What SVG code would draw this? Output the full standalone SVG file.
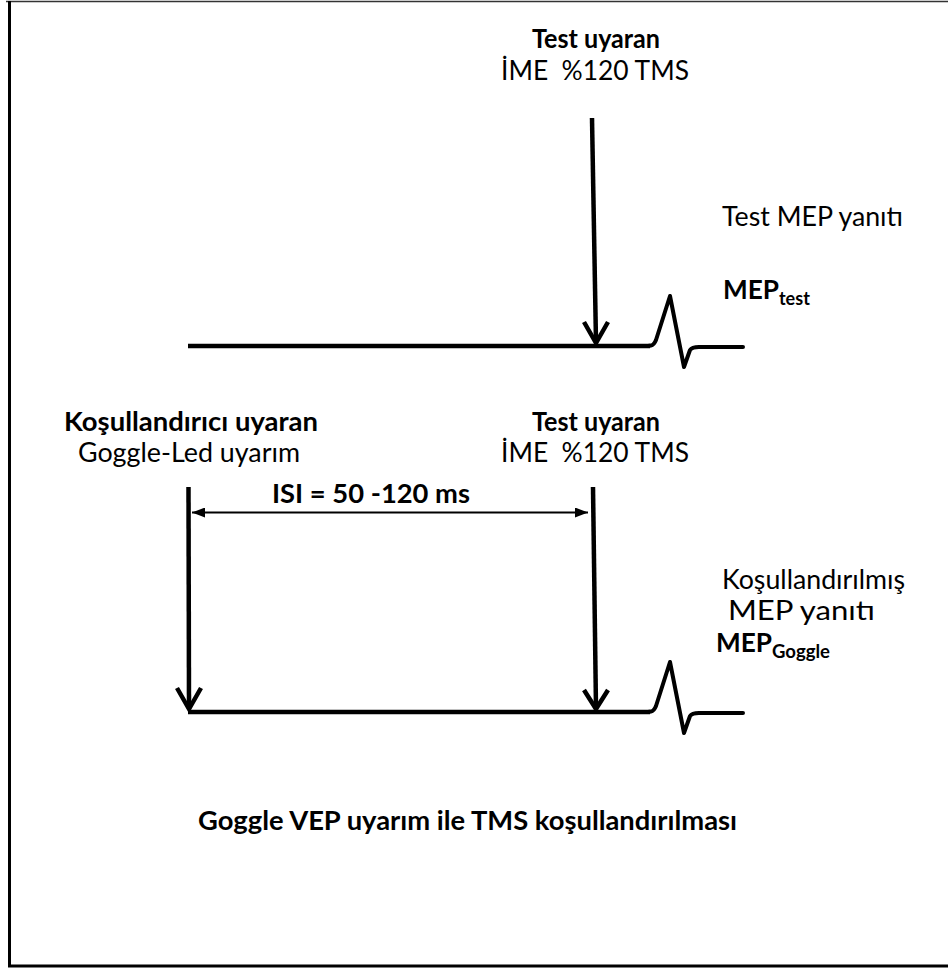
<svg xmlns="http://www.w3.org/2000/svg" width="948" height="968" viewBox="0 0 948 968">
<style>
text{font-family:Lato,"Open Sans","Liberation Sans",sans-serif;fill:#000;white-space:pre}
.b{font-weight:bold}
.r{font-size:26px}
.m{font-size:27px;font-weight:bold}
.s{font-size:18px;font-weight:bold}
.thick{stroke:#000;stroke-width:4.5;fill:none;stroke-linecap:butt}
.head{stroke:#000;stroke-width:4.5;fill:none;stroke-linejoin:miter;stroke-linecap:butt}
.wave{stroke:#000;stroke-width:4;fill:none;stroke-linejoin:round;stroke-linecap:round}
</style>
<defs>
<marker id="ah" viewBox="0 0 13 10" refX="13" refY="5" markerWidth="13" markerHeight="10" markerUnits="userSpaceOnUse" orient="auto-start-reverse">
<path d="M0,0 L13,5 L0,10 Z" fill="#000"/>
</marker>
</defs>
<rect x="0" y="0" width="948" height="968" fill="#fff"/>
<g id="frame">
<line x1="6" y1="1.5" x2="948" y2="1.5" stroke="#333" stroke-width="1.5"/>
<line x1="9.5" y1="1" x2="9.5" y2="967" stroke="#000" stroke-width="3"/>
<line x1="8" y1="966" x2="948" y2="966" stroke="#000" stroke-width="3"/>
</g>
<g id="connectors">
<line class="thick" x1="188" y1="346" x2="650" y2="346"/>
<path class="wave" d="M648,346 L651,345.5 Q654,345 656,340 L670,296 L684,367 L690,350 Q692,347 699,347 L743,347"/>
<line class="thick" x1="592" y1="118" x2="596" y2="342"/>
<polyline class="head" points="584,322 596,343 608,322"/>
<line class="thick" x1="188" y1="712" x2="650" y2="712"/>
<path class="wave" d="M648,712 L651,711.5 Q654,711 656,706 L670,662 L684,733 L690,716 Q692,713 699,713 L743,713"/>
<line class="thick" x1="188.5" y1="487" x2="189" y2="708"/>
<polyline class="head" points="177,688 189,709 201,688"/>
<line class="thick" x1="593" y1="487" x2="596" y2="708"/>
<polyline class="head" points="584,690 596,709 608,690"/>
<line x1="192" y1="512.5" x2="588" y2="512.5" stroke="#000" stroke-width="2" marker-start="url(#ah)" marker-end="url(#ah)"/>
</g>
<g id="test-stimulus-top">
<text class="r b" x="596" y="48" text-anchor="middle" textLength="128" lengthAdjust="spacingAndGlyphs">Test uyaran</text>
<text class="r" x="595" y="80" text-anchor="middle" textLength="188" lengthAdjust="spacingAndGlyphs">İME  %120 TMS</text>
</g>
<g id="test-mep-label">
<text class="r" x="722" y="226" textLength="181" lengthAdjust="spacingAndGlyphs">Test MEP yanıtı</text>
<text x="723" y="299"><tspan class="m" textLength="56" lengthAdjust="spacingAndGlyphs">MEP</tspan><tspan class="s" dy="6">test</tspan></text>
</g>
<g id="conditioning-stimulus">
<text class="r b" x="64" y="431" textLength="254" lengthAdjust="spacingAndGlyphs">Koşullandırıcı uyaran</text>
<text class="r" x="78" y="462" textLength="222" lengthAdjust="spacingAndGlyphs">Goggle-Led uyarım</text>
</g>
<g id="isi-label">
<text class="r b" x="272" y="503" textLength="198" lengthAdjust="spacingAndGlyphs">ISI = 50 -120 ms</text>
</g>
<g id="test-stimulus-bottom">
<text class="r b" x="596" y="431" text-anchor="middle" textLength="128" lengthAdjust="spacingAndGlyphs">Test uyaran</text>
<text class="r" x="595" y="462" text-anchor="middle" textLength="188" lengthAdjust="spacingAndGlyphs">İME  %120 TMS</text>
</g>
<g id="conditioned-mep-label">
<text class="r" x="722" y="589" textLength="183" lengthAdjust="spacingAndGlyphs">Koşullandırılmış</text>
<text class="r" x="728" y="620" textLength="147" lengthAdjust="spacingAndGlyphs">MEP yanıtı</text>
<text x="716" y="652"><tspan class="m" textLength="56" lengthAdjust="spacingAndGlyphs">MEP</tspan><tspan class="s" dy="6" textLength="58" lengthAdjust="spacingAndGlyphs">Goggle</tspan></text>
</g>
<g id="caption">
<text class="r b" x="198" y="830" textLength="539" lengthAdjust="spacingAndGlyphs">Goggle VEP uyarım ile TMS koşullandırılması</text>
</g>
</svg>
